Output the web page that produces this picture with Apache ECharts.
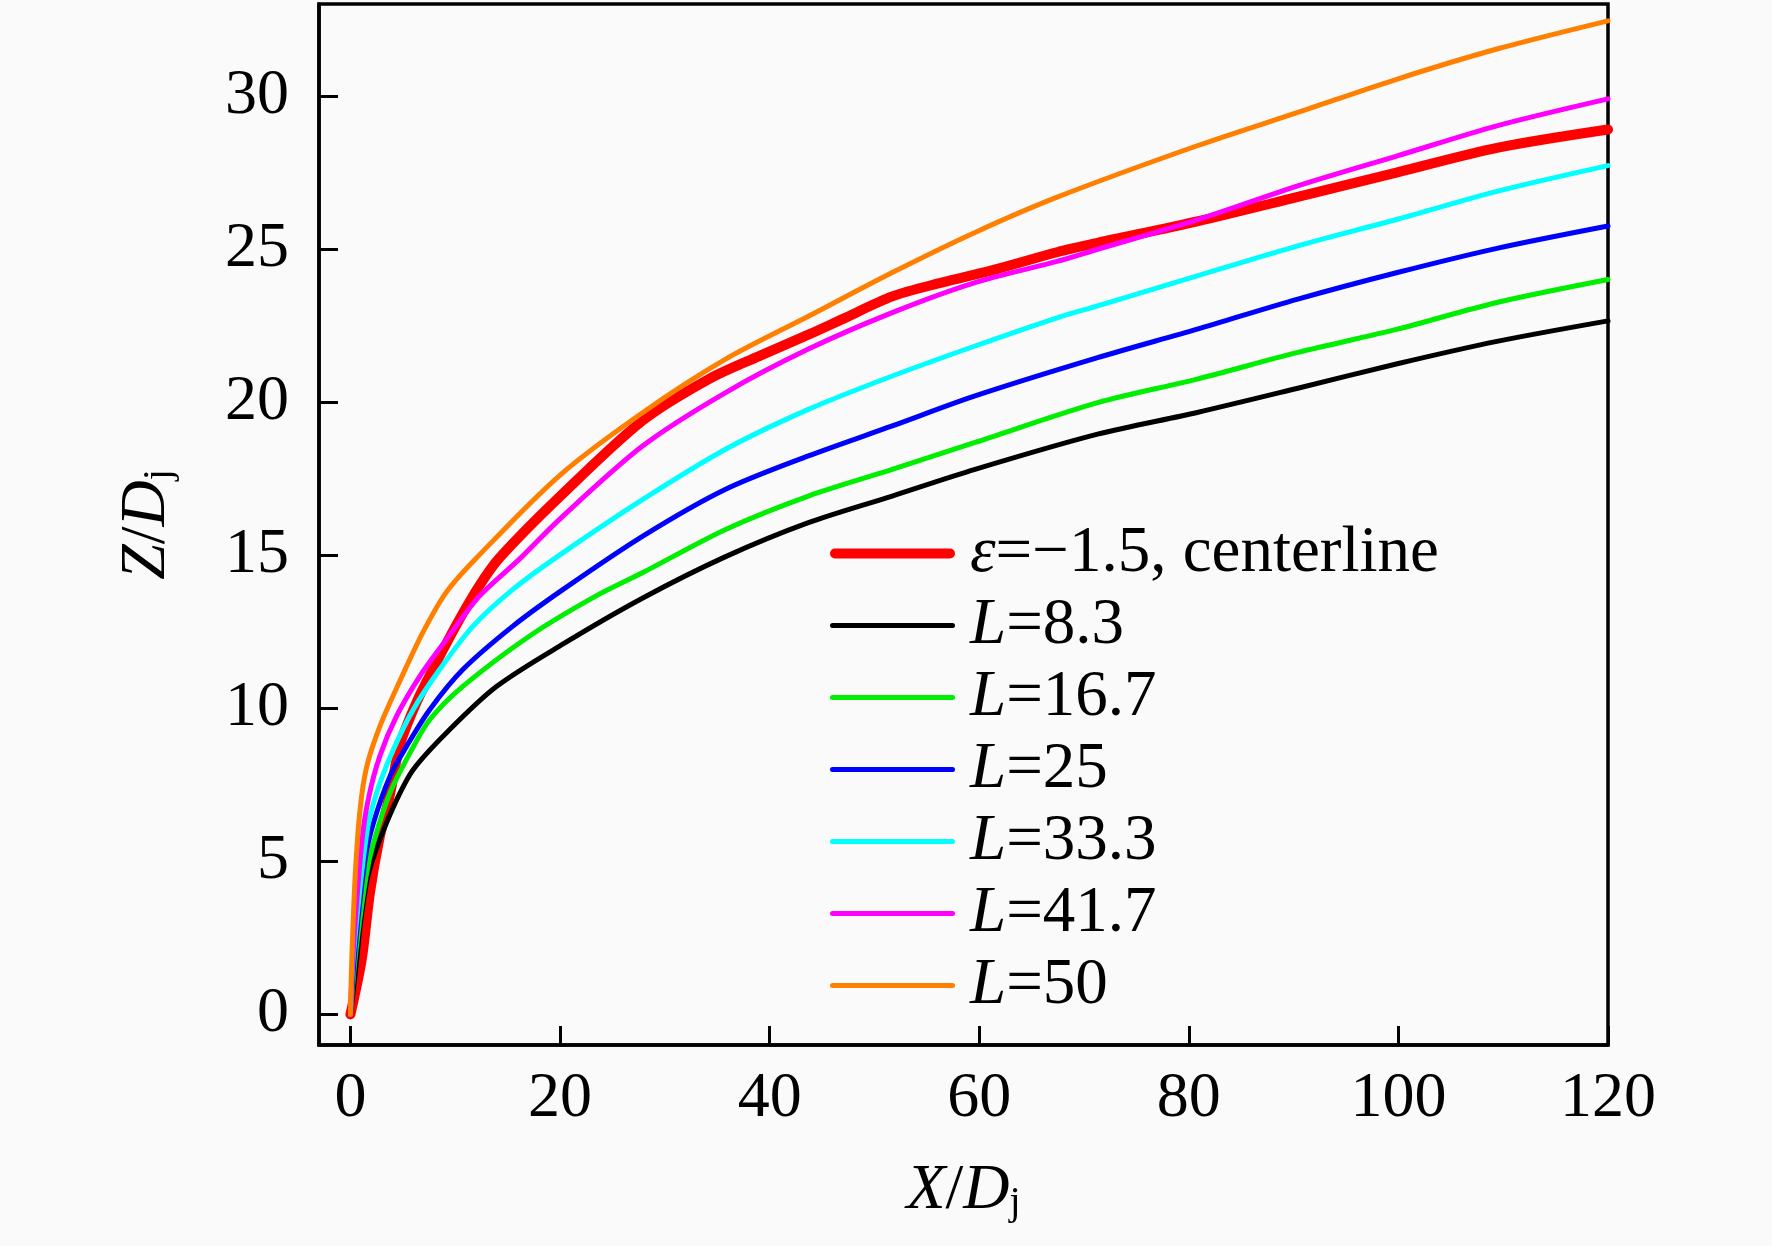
<!DOCTYPE html>
<html>
<head>
<meta charset="utf-8">
<title>Z/Dj vs X/Dj</title>
<script src="https://cdn.jsdelivr.net/npm/echarts@6/dist/echarts.min.js"></script>
<style>
  html, body { margin: 0; padding: 0; background: #fafafa; }
  #chart { width: 1772px; height: 1246px; }
</style>
</head>
<body>
<div id="chart"></div>
<script>
// values, [X/Dj, Z/Dj]
const seriesNames = ['ε=−1.5, centerline', 'L=8.3', 'L=16.7', 'L=25', 'L=33.3', 'L=41.7', 'L=50']
const seriesColors = ['#ff0000', '#000000', '#00ee00', '#0000ff', '#00ffff', '#ff00ff', '#ff8000']

const centerline = [[0, 0], [1.08, 1.8], [1.87, 4.0], [2.8, 5.8], [3.78, 7.2], [4.73, 8.8], [6.32, 10.2],
  [8.22, 11.5], [10.4, 12.9], [12.3, 14.0], [14.2, 14.9], [19.95, 16.9], [27.9, 19.4], [34.2, 20.75],
  [39, 21.5], [43.7, 22.2], [46.9, 22.7], [51.7, 23.45], [56.4, 23.9], [61.2, 24.3], [67.5, 24.9],
  [71.3, 25.2], [80.8, 25.9], [90.4, 26.7], [99.9, 27.5], [109.4, 28.3], [120, 28.9]]
const L8_3 = [[0, 0], [0.6, 1.8], [0.92, 2.9], [1.65, 4.5], [2.8, 5.7], [4.4, 7.0], [6.0, 8.0], [9.17, 9.2],
  [13.9, 10.7], [20.3, 12.1], [27.9, 13.6], [35.8, 14.95], [43.7, 16.06], [51.7, 16.93], [59.6, 17.8],
  [71.3, 18.95], [80.8, 19.66], [90.4, 20.45], [99.9, 21.25], [109.4, 21.98], [120, 22.65]]
const L16_7 = [[0, 0], [0.5, 2.0], [1.49, 4.5], [2.2, 5.6], [3.78, 7.24], [5.7, 8.55], [7.58, 9.63],
  [10.75, 10.72], [17.1, 12.36], [23.4, 13.66], [27.9, 14.43], [35.8, 15.84], [43.7, 16.93], [51.7, 17.8],
  [59.6, 18.68], [71.3, 19.98], [80.8, 20.75], [90.4, 21.62], [99.9, 22.38], [109.4, 23.25], [120, 24.0]]
const L25 = [[0, 0], [0.4, 2.0], [1.4, 5.06], [2.2, 6.26], [3.78, 7.78], [5.36, 8.76], [7.58, 9.96],
  [10.75, 11.27], [15.5, 12.68], [20.3, 13.88], [27.9, 15.62], [35.8, 17.15], [43.7, 18.24],
  [51.7, 19.22], [59.6, 20.2], [71.3, 21.45], [80.8, 22.38], [90.4, 23.36], [99.9, 24.23],
  [109.4, 25.02], [120, 25.75]]
const L33_3 = [[0, 0], [0.3, 2.0], [1.56, 5.93], [2.5, 7.24], [4.1, 8.65], [6.0, 9.96], [8.53, 11.27],
  [11.7, 12.68], [15.5, 13.88], [19.95, 15.0], [27.9, 16.82], [35.8, 18.46], [43.7, 19.76], [51.7, 20.85],
  [59.6, 21.83], [67.5, 22.76], [71.3, 23.14], [80.8, 24.12], [90.4, 25.1], [99.9, 25.97], [109.4, 26.88], [120, 27.72]]
const L41_7 = [[0, 0], [0.25, 2.0], [1.08, 5.6], [1.7, 7.02], [2.8, 8.43], [4.4, 9.74], [6.63, 11.05],
  [9.17, 12.25], [12.3, 13.66], [16.1, 14.86], [19.95, 16.17], [27.9, 18.57], [35.8, 20.31], [43.7, 21.73],
  [51.7, 22.92], [59.6, 23.9], [67.5, 24.6], [71.3, 24.99], [80.8, 25.95], [90.4, 27.06], [99.9, 28.04],
  [109.4, 29.02], [120, 29.9]]
const L50 = [[0, 0], [0.13, 1.8], [0.45, 4.5], [0.92, 6.7], [1.56, 8.1], [2.8, 9.4], [4.73, 10.9],
  [6.95, 12.5], [9.17, 13.8], [12, 14.9], [19.95, 17.6], [27.9, 19.66], [35.8, 21.4], [43.7, 22.8],
  [51.7, 24.23], [59.6, 25.54], [67.5, 26.7], [80.8, 28.37], [90.4, 29.46], [99.9, 30.55],
  [109.4, 31.53], [120, 32.45]]

const seriesData = [centerline, L8_3, L16_7, L25, L33_3, L41_7, L50]
const seriesWidths = [10, 5, 5, 5, 5, 5, 5]

const xTicks = [0, 20, 40, 60, 80, 100, 120]
const yTicks = [0, 5, 10, 15, 20, 25, 30]

const FONT = '"Liberation Serif", "Times New Roman", serif'

// legend keys: rounded bars, the centerline one twice as thick
const thinKey = 'path://M0.5,0H24.5A0.5,0.5,0,0,1,24.5,1H0.5A0.5,0.5,0,0,1,0.5,0Z'
const thickKey = 'path://M1,0H24A1,1,0,0,1,24,2H1A1,1,0,0,1,1,0Z'

const chart = echarts.init(document.getElementById('chart'), null, { renderer: 'canvas' })

const axisCommon = {
  type: 'value',
  axisLine: { show: true, onZero: false, lineStyle: { color: '#000', width: 3.5 } },
  axisTick: { show: true, inside: true, length: 19, lineStyle: { color: '#000', width: 3 } },
  splitLine: { show: false },
  nameLocation: 'middle',
  nameTextStyle: {
    fontFamily: FONT, fontSize: 64, color: '#000', lineHeight: 64,
    rich: {
      it: { fontFamily: FONT, fontSize: 64, fontStyle: 'italic', color: '#000', lineHeight: 64 },
      n: { fontFamily: FONT, fontSize: 64, color: '#000', lineHeight: 64 },
      sub: { fontFamily: FONT, fontSize: 40, color: '#000', lineHeight: 30, verticalAlign: 'bottom' }
    }
  }
}

const options = {
  backgroundColor: '#fafafa',
  animation: false,
  grid: {
    left: 319, right: 164, top: 4, bottom: 201,
    show: true, borderColor: '#000', borderWidth: 3.5, backgroundColor: 'transparent'
  },
  xAxis: Object.assign({}, axisCommon, {
    min: -3, max: 120,
    name: '{it|X}{n|/}{it|D}{sub|j}',
    nameGap: 114,
    axisTick: Object.assign({}, axisCommon.axisTick, { customValues: xTicks }),
    axisLabel: {
      customValues: xTicks, margin: 22,
      fontFamily: FONT, fontSize: 64, color: '#000'
    }
  }),
  yAxis: Object.assign({}, axisCommon, {
    min: -1, max: 33,
    name: '{it|Z}{n|/}{it|D}{sub|j}',
    nameGap: 140,
    nameRotate: 90,
    axisTick: Object.assign({}, axisCommon.axisTick, { customValues: yTicks }),
    axisLabel: {
      customValues: yTicks, margin: 30,
      fontFamily: FONT, fontSize: 64, color: '#000'
    }
  }),
  legend: {
    orient: 'vertical',
    left: 830, top: 521,
    padding: 0,
    itemWidth: 125, itemHeight: 10, itemGap: 7,
    symbolKeepAspect: true,
    data: seriesNames.map((name, i) => ({
      name: name,
      icon: i === 0 ? thickKey : thinKey,
      itemStyle: { color: seriesColors[i], borderWidth: 0 }
    })),
    formatter: function (name) {
      if (name.charAt(0) === 'ε') return '{it|ε}{n|' + name.slice(1) + '}'
      return '{it|L}{n|' + name.slice(1) + '}'
    },
    textStyle: {
      fontFamily: FONT, fontSize: 65, color: '#000', lineHeight: 64,
      rich: {
        it: { fontFamily: FONT, fontSize: 65, fontStyle: 'italic', color: '#000', lineHeight: 64, padding: [0, 0, 0, 10] },
        n: { fontFamily: FONT, fontSize: 65, color: '#000', lineHeight: 64 }
      }
    }
  },
  series: seriesNames.map((name, i) => ({
    name: name,
    type: 'line',
    data: seriesData[i],
    symbol: 'none',
    smooth: 0.3,
    clip: true,
    itemStyle: { color: seriesColors[i] },
    lineStyle: { color: seriesColors[i], width: seriesWidths[i], cap: 'round', join: 'round' }
  }))
}

chart.setOption(options)
</script>
</body>
</html>
